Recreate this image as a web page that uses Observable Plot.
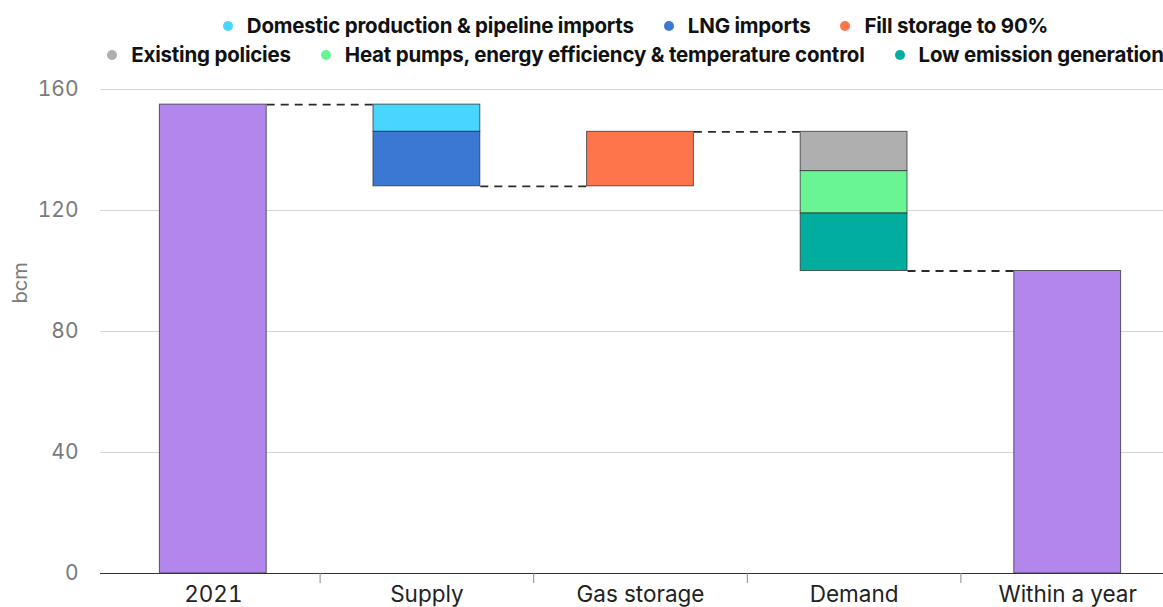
<!DOCTYPE html>
<html><head><meta charset="utf-8">
<script src="https://cdn.jsdelivr.net/npm/d3@7"></script>
<script src="https://cdn.jsdelivr.net/npm/@observablehq/plot@0.6"></script>
<style>
html,body{margin:0;padding:0;background:#fff;overflow:hidden;width:1163px;height:607px}
#legend{box-sizing:border-box;padding-top:11px;height:70px;width:1063px;margin-left:104px;font-family:Inter,"Noto Sans",sans-serif;font-weight:700;font-size:20.5px;color:#111;letter-spacing:-0.2px}
.row{display:flex;justify-content:center;white-space:nowrap;height:29px;align-items:center}
.item{display:flex;align-items:center;margin:0 15px;flex:none}
.sw{width:10px;height:10px;border-radius:50%;margin-right:14px;flex:none}
#chart{width:1163px;overflow:hidden}
#chart svg{max-width:none !important}
</style></head><body>
<div id="legend"></div><div id="chart"></div>
<script>
// ---- data ----
const categories = ["2021", "Supply", "Gas storage", "Demand", "Within a year"];
const startValue = 155;
const seriesNames = [
  "Domestic production & pipeline imports",
  "LNG imports",
  "Fill storage to 90%",
  "Existing policies",
  "Heat pumps, energy efficiency & temperature control",
  "Low emission generation"
];
const seriesCategory = ["Supply", "Supply", "Gas storage", "Demand", "Demand", "Demand"];
const seriesValues = [-9, -18, 18, -13, -14, -19];
const yTicks = [0, 40, 80, 120, 160];
const legendRows = [[0, 1, 2], [3, 4, 5]];

// ---- styles ----
const seriesColors = ["#48d5ff", "#3b78d3", "#ff754b", "#afafaf", "#69f593", "#00ad9f"];
const totalColor = "#b386ee";

// ---- legend ----
const leg = document.getElementById("legend");
legendRows.forEach(row => {
  const r = document.createElement("div"); r.className = "row";
  row.forEach(i => {
    const it = document.createElement("div"); it.className = "item";
    const sw = document.createElement("span"); sw.className = "sw"; sw.style.background = seriesColors[i];
    const t = document.createElement("span"); t.textContent = seriesNames[i];
    it.appendChild(sw); it.appendChild(t); r.appendChild(it);
  });
  leg.appendChild(r);
});

// ---- build waterfall ----
const half = 0.25;
const segs = [];
const connectors = [];
let level = startValue;
segs.push({i: 0, y1: 0, y2: startValue, fill: totalColor});
categories.forEach((c, i) => {
  if (i === 0 || i === categories.length - 1) return;
  connectors.push({from: i - 1, to: i, y: level});
  seriesNames.forEach((s, k) => {
    if (seriesCategory[k] !== c) return;
    segs.push({i, y1: level, y2: level + seriesValues[k], fill: seriesColors[k]});
    level += seriesValues[k];
  });
});
const last = categories.length - 1;
connectors.push({from: last - 1, to: last, y: level});
segs.push({i: last, y1: 0, y2: level, fill: totalColor});

const boundaries = d3.range(categories.length - 1).map(i => i + 0.5);

const chart = Plot.plot({
  width: 1176, height: 537,
  marginLeft: 100, marginRight: 0, marginTop: 19, marginBottom: 34,
  x: {type: "linear", domain: [-0.5, categories.length - 0.5], range: [106, 1174]},
  y: {domain: [0, 160]},
  style: {fontFamily: "Inter, 'Noto Sans', sans-serif", background: "#fff", overflow: "visible"},
  marks: [
    Plot.gridY(yTicks, {stroke: "#d4d4d4", strokeOpacity: 1}),
    Plot.axisY(yTicks, {tickSize: 0, tickPadding: 22, fontSize: 21, color: "#7a7a7a", label: null}),
    Plot.rect(segs, {x1: d => d.i - half, x2: d => d.i + half, y1: "y1", y2: "y2", fill: d => d.fill, stroke: "#2f2f2f", strokeWidth: 1, strokeOpacity: 0.75}),
    Plot.link(connectors, {x1: d => d.from + half, x2: d => d.to - half, y1: "y", y2: "y", stroke: "#2a2a2a", strokeWidth: 1.8, strokeDasharray: "8,6"}),
    Plot.ruleY([0], {stroke: "#333", strokeWidth: 1.2}),
    Plot.axisX(boundaries, {tickSize: 10, tickFormat: () => "", color: "#8a8a8a", label: null}),
    Plot.axisX(d3.range(categories.length), {tickSize: 0, tickPadding: 13, tickFormat: i => categories[i], fontSize: 22.5, color: "#222", label: null}),
    Plot.text(["bcm"], {frameAnchor: "left", rotate: -90, dx: -80, dy: -28, fontSize: 20, fill: "#7a7a7a"})
  ]
});
chart.style.maxWidth = "none";
document.getElementById("chart").appendChild(chart);
</script>
</body></html>
